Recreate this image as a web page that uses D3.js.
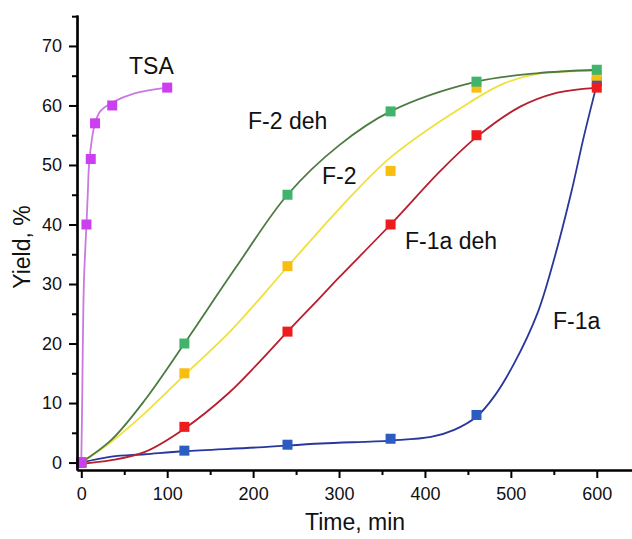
<!DOCTYPE html>
<html>
<head>
<meta charset="utf-8">
<script src="https://cdn.jsdelivr.net/npm/d3@7"></script>
<style>
  body { margin: 0; background: #fff; }
  text { font-family: "Liberation Sans", Arial, sans-serif; fill: #111; }
</style>
</head>
<body>
<div id="chart"></div>
<script>
// measured points
var time = [0, 120, 240, 360, 460, 600];
var f2deh = [0, 20, 45, 59, 64, 66];
var f2 = [0, 15, 33, 49, 63, 65];
var f1adeh = [0, 6, 22, 40, 55, 63];
var f1a = [0, 2, 3, 4, 8, 64];
var tsaTime = [0, 6, 11, 16, 36, 100];
var tsa = [0, 40, 51, 57, 60, 63];

// fitted curves
var f2dehFitT = [0, 35, 74, 120, 180, 240, 300, 360, 460, 530, 600];
var f2dehFit = [0, 3.8, 10.5, 20, 32.8, 45, 53.3, 59, 64, 65.4, 66];
var f2FitT = [0, 35, 74, 120, 175, 240, 300, 361, 453, 492, 531, 600];
var f2Fit = [0, 3.5, 8.3, 14.7, 22.3, 32.9, 42.6, 51.4, 60.6, 63.7, 65.3, 65.8];
var f1adehFitT = [0, 35, 74, 120, 171, 206, 240, 279, 300, 360, 420, 461, 511, 550, 600];
var f1adehFit = [-0.2, 0.4, 1.8, 5.7, 11.6, 16.7, 22, 27.9, 31.1, 40, 49.3, 54.8, 59.8, 62, 63];
var f1aFitT = [0, 35, 74, 120, 206, 279, 360, 407, 434, 460, 480, 504, 531, 550, 570, 585, 600];
var f1aFit = [0, 1.0, 1.4, 1.9, 2.55, 3.2, 3.7, 4.3, 5.5, 7.7, 11, 16.7, 25.1, 34, 45.2, 54.8, 63.5];
var tsaFitT = [0, 1, 3, 6, 7.5, 9, 12, 16, 22, 36, 61, 100];
var tsaFit = [0, 10, 30, 40, 45, 50, 54, 57, 59, 60.5, 62, 63];

var xTicks = [0, 100, 200, 300, 400, 500, 600];
var xMinor = [50, 150, 250, 350, 450, 550];
var yTicks = [0, 10, 20, 30, 40, 50, 60, 70];
var yMinor = [5, 15, 25, 35, 45, 55, 65, 75];

var series = [
    { name: "F-1a", t: time, v: f1a, ft: f1aFitT, fv: f1aFit, mark: "#2b5cc2", line: "#28379c", lx: 553, ly: 329 },
    { name: "F-2", t: time, v: f2, ft: f2FitT, fv: f2Fit, mark: "#f7bd10", line: "#efe13a", lx: 322, ly: 184 },
    { name: "F-1a deh", t: time, v: f1adeh, ft: f1adehFitT, fv: f1adehFit, mark: "#ee1c1c", line: "#b71f2e", lx: 405, ly: 249 },
    { name: "F-2 deh", t: time, v: f2deh, ft: f2dehFitT, fv: f2dehFit, mark: "#3fb46a", line: "#4c7b42", lx: 248, ly: 129 },
    { name: "TSA", t: tsaTime, v: tsa, ft: tsaFitT, fv: tsaFit, mark: "#cc3ff0", line: "#c97ae0", lx: 129, ly: 74 }
];

var width = 632, height = 539;
var mLeft = 77, mRight = 632, mTop = 15, mBottom = 470;

var svg = d3.select("#chart").append("svg")
    .attr("width", width)
    .attr("height", height);

var x = d3.scaleLinear().domain([-5, 641]).range([mLeft, mRight]);
var y = d3.scaleLinear().domain([-1.25, 75.2]).range([mBottom, mTop]);

var line = d3.line()
    .x(function(d) { return x(d[0]); })
    .y(function(d) { return y(d[1]); })
    .curve(d3.curveCatmullRom.alpha(0.5));

// curves
series.forEach(function(s) {
    svg.append("path")
        .datum(s.ft.map(function(t, i) { return [t, s.fv[i]]; }))
        .attr("fill", "none")
        .attr("stroke", s.line)
        .attr("stroke-width", 1.8)
        .attr("d", line);
});

// markers
var ms = 10;
series.forEach(function(s) {
    svg.append("g").selectAll("rect")
        .data(s.t.map(function(t, i) { return [t, s.v[i]]; }))
        .enter().append("rect")
        .attr("x", function(d) { return x(d[0]) - ms / 2; })
        .attr("y", function(d) { return y(d[1]) - ms / 2; })
        .attr("width", ms)
        .attr("height", ms)
        .attr("fill", s.mark);

    svg.append("text")
        .attr("x", s.lx)
        .attr("y", s.ly)
        .style("font-size", "23px")
        .text(s.name);
});

// axes
svg.append("g")
    .attr("transform", "translate(0," + mBottom + ")")
    .call(d3.axisBottom(x).tickValues(xTicks).tickSize(8).tickPadding(9).tickSizeOuter(0));
svg.append("g")
    .attr("transform", "translate(0," + mBottom + ")")
    .call(d3.axisBottom(x).tickValues(xMinor).tickSize(5).tickFormat("").tickSizeOuter(0));

svg.append("g")
    .attr("transform", "translate(" + mLeft + ",0)")
    .call(d3.axisLeft(y).tickValues(yTicks).tickSize(8).tickPadding(7).tickSizeOuter(0));
svg.append("g")
    .attr("transform", "translate(" + mLeft + ",0)")
    .call(d3.axisLeft(y).tickValues(yMinor).tickSize(5).tickFormat("").tickSizeOuter(0));

svg.selectAll(".domain").attr("stroke", "#000").attr("stroke-width", 2.2);
svg.selectAll(".tick line").attr("stroke", "#000").attr("stroke-width", 2);
svg.selectAll(".tick text")
    .style("font-family", "'Liberation Sans', Arial, sans-serif")
    .style("font-size", "18px")
    .attr("fill", "#111");

svg.append("text")
    .attr("x", 355)
    .attr("y", 530)
    .attr("text-anchor", "middle")
    .style("font-size", "23px")
    .text("Time, min");

svg.append("text")
    .attr("transform", "translate(30,247) rotate(-90)")
    .attr("text-anchor", "middle")
    .style("font-size", "23px")
    .text("Yield, %");
</script>
</body>
</html>
